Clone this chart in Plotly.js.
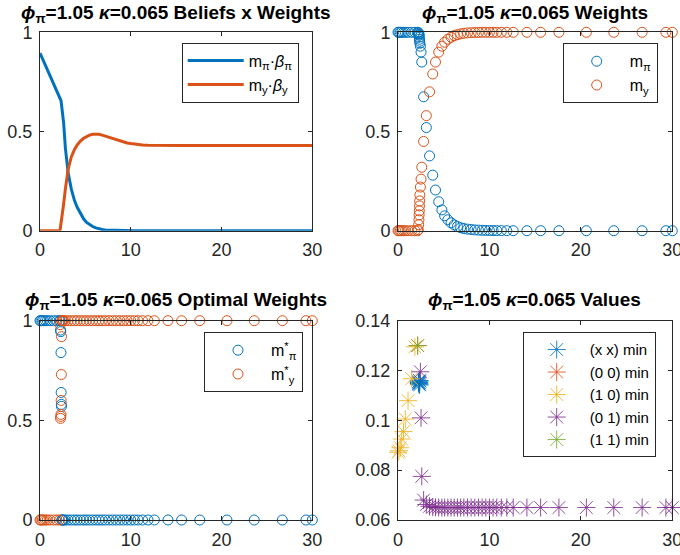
<!DOCTYPE html>
<html><head><meta charset="utf-8">
<script src="https://cdn.plot.ly/plotly-3.0.1.min.js"></script>
<style>html,body{margin:0;padding:0;background:#fff}#chart{width:680px;height:555px}</style>
</head><body><div id="chart"></div>
<script>
// time grid shared by all panels
const T = [0, 0.1, 0.25, 0.4, 0.6, 0.8, 1.1, 1.5, 1.85, 2.15,
  2.22, 2.26, 2.29, 2.31, 2.33, 2.35, 2.37, 2.39,
  2.45, 2.52,
  2.6, 2.8, 3.1, 3.45, 3.8, 4.1, 4.45, 4.8, 5.1, 5.45,
  5.8, 6.15, 6.5, 6.85, 7.2, 7.6, 8.0, 8.4, 8.8, 9.2,
  9.6, 10.0, 10.4, 10.8, 11.3, 11.9, 12.6,
  14.1, 15.6, 17.6, 20.6, 23.6, 26.7, 29.3, 30];

// Panel 1: beliefs x weights
const beliefPi = [0.895, 0.885, 0.871, 0.856, 0.836, 0.815, 0.785, 0.745, 0.709, 0.677,
  0.670, 0.665, 0.660, 0.656, 0.651, 0.645, 0.638, 0.630,
  0.610, 0.580,
  0.545, 0.415, 0.292, 0.21, 0.152, 0.118, 0.085, 0.06, 0.043, 0.03,
  0.021, 0.014, 0.009, 0.006, 0.004, 0.003, 0.002, 0.001, 0.001, 0,
  0, 0, 0, 0, 0, 0, 0,
  0, 0, 0, 0, 0, 0, 0, 0];
const beliefY = [0, 0, 0, 0, 0, 0, 0, 0, 0, 0,
  0.006, 0.017, 0.026, 0.032, 0.039, 0.046, 0.053, 0.06,
  0.082, 0.106,
  0.133, 0.212, 0.31, 0.372, 0.41, 0.432, 0.452, 0.466, 0.475, 0.482,
  0.486, 0.487, 0.486, 0.482, 0.477, 0.47, 0.463, 0.457, 0.451, 0.446,
  0.442, 0.439, 0.436, 0.434, 0.432, 0.431, 0.43,
  0.429, 0.429, 0.429, 0.429, 0.429, 0.429, 0.429, 0.429];

// Panel 2: weights
const wPi = [1, 1, 1, 1, 1, 1, 1, 1, 1, 1,
  0.998, 0.995, 0.99, 0.985, 0.975, 0.965, 0.955, 0.945,
  0.93, 0.9,
  0.85, 0.675, 0.52, 0.377, 0.28, 0.205, 0.146, 0.105, 0.075, 0.055,
  0.04, 0.029, 0.021, 0.015, 0.011, 0.008, 0.006, 0.004, 0.003, 0.002,
  0.0015, 0.001, 0.0007, 0.0005, 0.0003, 0.0002, 0.0001,
  0, 0, 0, 0, 0, 0, 0, 0];
const wY = [0, 0, 0, 0, 0, 0, 0, 0, 0, 0,
  0.005, 0.03, 0.055, 0.08, 0.1, 0.125, 0.15, 0.18,
  0.22, 0.26,
  0.32, 0.45, 0.58, 0.70, 0.79, 0.85, 0.90, 0.93, 0.95, 0.965,
  0.975, 0.983, 0.988, 0.992, 0.995, 0.997, 0.998, 0.999, 0.999, 1,
  1, 1, 1, 1, 1, 1, 1,
  1, 1, 1, 1, 1, 1, 1, 1];

// Panel 3: optimal weights
const optPi = [1, 1, 1, 1, 1, 1, 1, 1, 1, 1,
  1, 0.953, 0.945, 0.84, 0.64, 0.58, 0.57, 0,
  0, 0,
  0, 0, 0, 0, 0, 0, 0, 0, 0, 0,
  0, 0, 0, 0, 0, 0, 0, 0, 0, 0,
  0, 0, 0, 0, 0, 0, 0,
  0, 0, 0, 0, 0, 0, 0, 0];
const optY = [0, 0, 0, 0, 0, 0, 0, 0, 0, 0,
  0.98, 0.51, 0.52, 0.53, 0.6, 0.73, 0.92, 1,
  1, 1,
  1, 1, 1, 1, 1, 1, 1, 1, 1, 1,
  1, 1, 1, 1, 1, 1, 1, 1, 1, 1,
  1, 1, 1, 1, 1, 1, 1,
  1, 1, 1, 1, 1, 1, 1, 1];

// Panel 4: values (min regime at each time)
const valXXT = [2.22, 2.26, 2.29, 2.31, 2.33, 2.35, 2.37, 2.39];
const valXX  = [0.1155, 0.1148, 0.1152, 0.1145, 0.116, 0.115, 0.1142, 0.1158];
const val00T = [2.15];
const val00  = [0.13];
const val10T = [0, 0.1, 0.25, 0.4, 0.6, 0.8, 1.1, 1.5, 1.85];
const val10  = [0.0872, 0.0878, 0.089, 0.0925, 0.0955, 0.1005, 0.1079, 0.1167, 0.1295];
const val01T = [2.45, 2.52, 2.6, 2.8, 3.1, 3.45, 3.8, 4.1, 4.45, 4.8, 5.1, 5.45,
  5.8, 6.15, 6.5, 6.85, 7.2, 7.6, 8.0, 8.4, 8.8, 9.2,
  9.6, 10.0, 10.4, 10.8, 11.3, 11.9, 12.6,
  14.1, 15.6, 17.6, 20.6, 23.6, 26.7, 29.3, 30];
const val01  = [0.1195, 0.101, 0.0775, 0.068, 0.0662, 0.0655, 0.0652, 0.0651, 0.065, 0.065, 0.065, 0.065,
  0.065, 0.065, 0.065, 0.065, 0.065, 0.065, 0.065, 0.065, 0.065, 0.065,
  0.065, 0.065, 0.065, 0.065, 0.065, 0.065, 0.065,
  0.065, 0.065, 0.065, 0.065, 0.065, 0.065, 0.065, 0.065];
const val11T = [2.15];
const val11  = [0.13];

// tick labels
const xTicks = [0, 10, 20, 30];
const xTickText = ['0', '10', '20', '30'];
const yTicks = [0, 0.5, 1];
const yTickText = ['0', '0.5', '1'];
const vTicks = [0.06, 0.08, 0.1, 0.12, 0.14];
const vTickText = ['0.06', '0.08', '0.1', '0.12', '0.14'];

const C = {blue:'#0072BD', orange:'#D95319', yellow:'#EDB120', purple:'#7E2F8E', green:'#77AC30'};
const FONT = '"Liberation Sans", Arial, Helvetica, sans-serif';
const AXC = '#262626';
const W = 680, H = 555;
const px = v => v / W;
const py = v => 1 - v / H;

function axis(dom, anchor, range, tv, tt) {
  return {domain: dom, anchor: anchor, range: range, tickvals: tv, ticktext: tt,
    showline: true, mirror: 'ticks', linecolor: AXC, linewidth: 1,
    ticks: 'inside', ticklen: 4, tickcolor: AXC, tickwidth: 1,
    showgrid: false, zeroline: false, ticklabelstandoff: 3,
    ticklabeloverflow: 'allow',
    tickfont: {family: FONT, size: 18, color: AXC}, fixedrange: true};
}

const xL = [px(40), px(312.3)], xR = [px(398), px(672.3)];
const yT = [py(230.7), py(32.3)], yB = [py(520), py(320.7)];

function circ(x, y, color, name, xa, ya, lg) {
  return {x: x, y: y, type: 'scatter', mode: 'markers', name: name, xaxis: xa, yaxis: ya, legend: lg,
    cliponaxis: false,
    marker: {symbol: 'circle-open', size: 10, color: color, line: {width: 1, color: color}}};
}
function star(x, y, color, name) {
  return {x: x, y: y, type: 'scatter', mode: 'markers', name: name, xaxis: 'x4', yaxis: 'y4', legend: 'legend4',
    cliponaxis: false,
    marker: {symbol: 'asterisk-open', size: 15, color: color, opacity: 0.85, line: {width: 1, color: color}}};
}

const data = [
  {x: T, y: beliefPi, type: 'scatter', mode: 'lines', name: 'm<sub>π</sub>·<i>β</i><sub>π</sub>',
    xaxis: 'x', yaxis: 'y', legend: 'legend', line: {color: C.blue, width: 3}},
  {x: T, y: beliefY, type: 'scatter', mode: 'lines', name: 'm<sub>y</sub>·<i>β</i><sub>y</sub>',
    xaxis: 'x', yaxis: 'y', legend: 'legend', line: {color: C.orange, width: 3}},
  circ(T, wPi, C.blue, 'm<sub>π</sub>', 'x2', 'y2', 'legend2'),
  circ(T, wY, C.orange, 'm<sub>y</sub>', 'x2', 'y2', 'legend2'),
  circ(T, optPi, C.blue, 'm<sup>*</sup><sub>π</sub>', 'x3', 'y3', 'legend3'),
  circ(T, optY, C.orange, 'm<sup>*</sup><sub>y</sub>', 'x3', 'y3', 'legend3'),
  star(valXXT, valXX, C.blue, '(x x) min'),
  star(val00T, val00, C.orange, '(0 0) min'),
  star(val10T, val10, C.yellow, '(1 0) min'),
  star(val01T, val01, C.purple, '(0 1) min'),
  star(val11T, val11, C.green, '(1 1) min')
];

function leg(x, y, fs, iw) {
  return {x: px(x), y: py(y), xanchor: 'left', yanchor: 'top', xref: 'paper', yref: 'paper',
    bgcolor: '#ffffff', bordercolor: AXC, borderwidth: 1, itemwidth: iw,
    font: {family: FONT, size: fs, color: '#000'}};
}
function title(text, cx, cy) {
  return {text: '<b>' + text + '</b>', x: px(cx), y: py(cy), xref: 'paper', yref: 'paper',
    xanchor: 'center', yanchor: 'middle', showarrow: false,
    font: {family: FONT, size: 19, color: '#000'}};
}
const pre = '<i>ϕ</i><sub>π</sub>=1.05 <i>κ</i>=0.065 ';

const layout = {
  width: W, height: H, margin: {l: 0, r: 0, t: 0, b: 0},
  paper_bgcolor: '#fff', plot_bgcolor: '#fff', showlegend: true,
  xaxis: axis(xL, 'y', [0, 30], xTicks, xTickText),
  yaxis: axis(yT, 'x', [0, 1], yTicks, yTickText),
  xaxis2: axis(xR, 'y2', [0, 30], xTicks, xTickText),
  yaxis2: axis(yT, 'x2', [0, 1], yTicks, yTickText),
  xaxis3: axis(xL, 'y3', [0, 30], xTicks, xTickText),
  yaxis3: axis(yB, 'x3', [0, 1], yTicks, yTickText),
  xaxis4: axis(xR, 'y4', [0, 30], xTicks, xTickText),
  yaxis4: axis(yB, 'x4', [0.06, 0.14], vTicks, vTickText),
  legend: leg(181.7, 42.7, 16, 56),
  legend2: leg(562.7, 43.3, 16, 56),
  legend3: leg(204, 332.3, 16, 56),
  legend4: leg(522.7, 332.3, 15, 56),
  annotations: [
    title(pre + 'Beliefs x Weights', 176, 14),
    title(pre + 'Weights', 535, 14),
    title(pre + 'Optimal Weights', 176, 301),
    title(pre + 'Values', 534, 301)
  ]
};

Plotly.newPlot('chart', data, layout, {staticPlot: true, displayModeBar: false});
</script></body></html>
